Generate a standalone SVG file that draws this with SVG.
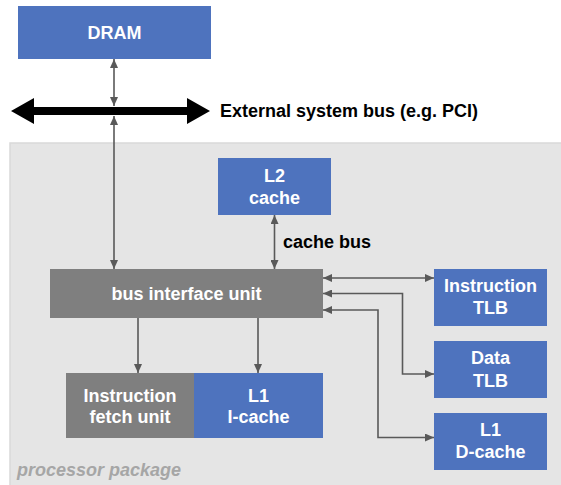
<svg xmlns="http://www.w3.org/2000/svg" width="561" height="485" viewBox="0 0 561 485">
  <style>
    .blue { fill: #4e73be; }
    .gray { fill: #7f7f7f; }
    .lbl { font-family: "Liberation Sans", Arial, sans-serif; font-weight: bold; font-size: 18px; fill: #ffffff; text-anchor: middle; }
    .dark { font-family: "Liberation Sans", Arial, sans-serif; font-weight: bold; font-size: 18px; fill: #000000; }
    .conn { fill: none; stroke: #595959; stroke-width: 1.6; marker-start: url(#ah); marker-end: url(#ah); }
    .one { marker-start: none; }
  </style>
  <defs>
    <marker id="ah" viewBox="0 0 9 8" refX="9" refY="4" markerWidth="9" markerHeight="8" markerUnits="userSpaceOnUse" orient="auto-start-reverse">
      <path d="M0,0 L9,4 L0,8 z" fill="#595959"/>
    </marker>
  </defs>

  <rect width="561" height="485" fill="#ffffff"/>

  <!-- processor package -->
  <g id="package">
    <rect x="10" y="143" width="560" height="350" fill="#e5e5e5" stroke="#d9d9d9" stroke-width="1.5"/>
    <text x="17" y="476" font-family="Liberation Sans, Arial, sans-serif" font-weight="bold" font-style="italic" font-size="18" fill="#a6a6a6">processor package</text>
  </g>

  <!-- external bus -->
  <g id="external-bus">
    <polygon points="11,111 34,98 34,107 187,107 187,98 210,111 187,124 187,115 34,115 34,124" fill="#000000"/>
    <text class="dark" x="220" y="117">External system bus (e.g. PCI)</text>
  </g>

  <g id="dram">
    <rect class="blue" x="18" y="6" width="193" height="53"/>
    <text class="lbl" x="114.5" y="39">DRAM</text>
  </g>

  <g id="l2-cache">
    <rect class="blue" x="218" y="158" width="113" height="57"/>
    <text class="lbl" x="274.5" y="182">L2</text>
    <text class="lbl" x="274.5" y="204">cache</text>
  </g>

  <g id="bus-interface-unit">
    <rect class="gray" x="50" y="269" width="273" height="49"/>
    <text class="lbl" x="186.5" y="300">bus interface unit</text>
  </g>

  <g id="fetch-unit">
    <rect class="gray" x="66" y="373" width="128" height="65"/>
    <text class="lbl" x="130" y="402">Instruction</text>
    <text class="lbl" x="130" y="423">fetch unit</text>
  </g>

  <g id="l1-icache">
    <rect class="blue" x="194" y="373" width="129" height="65"/>
    <text class="lbl" x="258.5" y="402">L1</text>
    <text class="lbl" x="258.5" y="423">I-cache</text>
  </g>

  <g id="instruction-tlb">
    <rect class="blue" x="434" y="269" width="113" height="57"/>
    <text class="lbl" x="490.5" y="292">Instruction</text>
    <text class="lbl" x="490.5" y="314">TLB</text>
  </g>

  <g id="data-tlb">
    <rect class="blue" x="434" y="341" width="113" height="57"/>
    <text class="lbl" x="490.5" y="364">Data</text>
    <text class="lbl" x="490.5" y="387">TLB</text>
  </g>

  <g id="l1-dcache">
    <rect class="blue" x="434" y="413" width="113" height="57"/>
    <text class="lbl" x="490.5" y="436">L1</text>
    <text class="lbl" x="490.5" y="458">D-cache</text>
  </g>

  <!-- connectors -->
  <g id="connectors">
    <path class="conn" d="M114,59 V106"/>
    <path class="conn" d="M114,116 V269"/>
    <path class="conn" d="M274.5,215 V269"/>
    <path class="conn one" d="M138,318 V373"/>
    <path class="conn one" d="M258,318 V373"/>
    <path class="conn" d="M323,278 H434"/>
    <path class="conn" d="M323,293.5 H402.5 V374 H434"/>
    <path class="conn" d="M323,310 H378 V437.5 H434"/>
    <text class="dark" x="283" y="248">cache bus</text>
  </g>
</svg>
